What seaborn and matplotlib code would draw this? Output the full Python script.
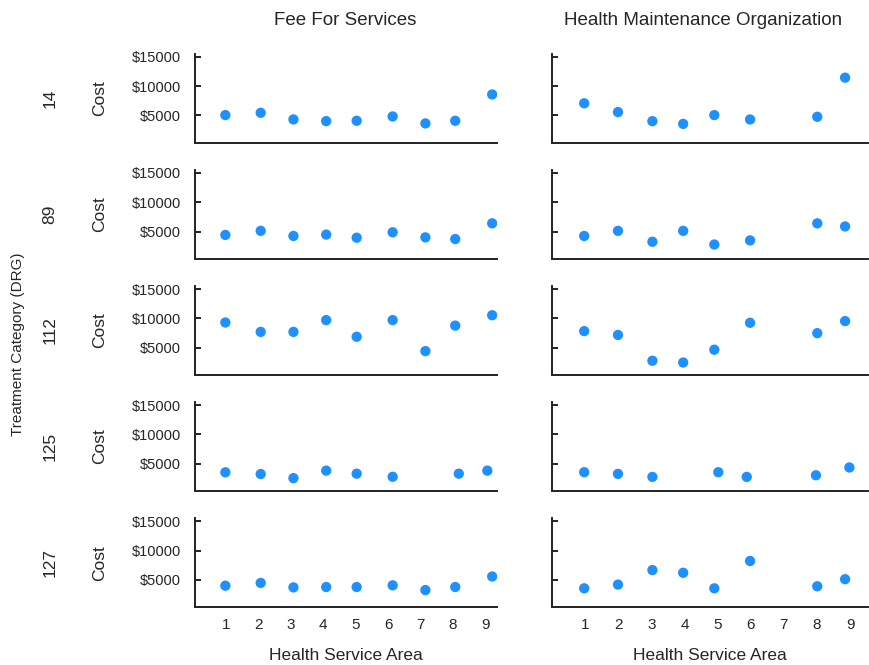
import numpy as np
import pandas as pd
import matplotlib
matplotlib.use("Agg")
import matplotlib.pyplot as plt
import seaborn as sns
from matplotlib.ticker import FuncFormatter

drg_codes = ["14", "89", "112", "125", "127"]
plans = ["Fee For Services", "Health Maintenance Organization"]
area_ticks = [1, 2, 3, 4, 5, 6, 7, 8, 9]
cost_ticks = [5000, 10000, 15000]

# horizontal positions as drawn (points sit slightly off the integer areas)
ffs_area = [0.98, 2.07, 3.08, 4.09, 5.03, 6.14, 7.15, 8.07, 9.21]
hmo_area = [0.97, 1.99, 3.03, 3.96, 4.90, 5.98, 8.01, 8.85]
ffs_area_125 = [0.98, 2.07, 3.08, 4.09, 5.03, 6.14, 8.18, 9.06]
hmo_area_125 = [0.97, 1.99, 3.03, 5.02, 5.88, 7.97, 8.98]

ffs_cost_14 = [5060, 5450, 4320, 4030, 4090, 4830, 3640, 4090, 8580]
hmo_cost_14 = [7070, 5575, 4020, 3560, 5060, 4310, 4770, 11440]
ffs_cost_89 = [4420, 5120, 4250, 4480, 3950, 4880, 4010, 3720, 6400]
hmo_cost_89 = [4250, 5120, 3260, 5120, 2790, 3490, 6400, 5870]
ffs_cost_112 = [9290, 7690, 7690, 9700, 6860, 9700, 4410, 8760, 10530]
hmo_cost_112 = [7820, 7170, 2770, 2470, 4650, 9240, 7470, 9530]
ffs_cost_125 = [3540, 3250, 2550, 3830, 3310, 2780, 3310, 3830]
hmo_cost_125 = [3560, 3275, 2760, 3560, 2760, 3040, 4370]
ffs_cost_127 = [4010, 4480, 3720, 3780, 3780, 4070, 3260, 3780, 5580]
hmo_cost_127 = [3560, 4195, 6670, 6210, 3560, 8220, 3910, 5115]

panels = [
    ("14", plans[0], ffs_area, ffs_cost_14),
    ("14", plans[1], hmo_area, hmo_cost_14),
    ("89", plans[0], ffs_area, ffs_cost_89),
    ("89", plans[1], hmo_area, hmo_cost_89),
    ("112", plans[0], ffs_area, ffs_cost_112),
    ("112", plans[1], hmo_area, hmo_cost_112),
    ("125", plans[0], ffs_area_125, ffs_cost_125),
    ("125", plans[1], hmo_area_125, hmo_cost_125),
    ("127", plans[0], ffs_area, ffs_cost_127),
    ("127", plans[1], hmo_area, hmo_cost_127),
]
records = []
for drg, plan, areas, costs in panels:
    for a, c in zip(areas, costs):
        records.append({"DRG": drg, "Plan": plan, "Area": a, "Cost": c})
df = pd.DataFrame(records)

sns.set_style("white")
plt.rcParams["font.family"] = ["Liberation Sans", "DejaVu Sans"]
plt.rcParams["font.size"] = 10.5

fig, axes = plt.subplots(
    5, 2, figsize=(8.7, 6.65), dpi=100,
    gridspec_kw=dict(width_ratios=[302, 316], left=0.224, right=0.998,
                     top=0.919, bottom=0.087, hspace=0.307, wspace=0.178),
)
xlims = [(0.04, 9.36), (0.0, 9.55)]
title_x = [0.497, 0.478]
money = FuncFormatter(lambda v, _: f"${v:.0f}")

for i, drg in enumerate(drg_codes):
    for j, plan in enumerate(plans):
        ax = axes[i, j]
        sub = df[(df["DRG"] == drg) & (df["Plan"] == plan)]
        sns.scatterplot(data=sub, x="Area", y="Cost", ax=ax, color="#1e90ff",
                        s=55, edgecolor="none", legend=False)
        ax.set_xlim(*xlims[j])
        ax.set_ylim(350, 15500)
        ax.set_xticks(area_ticks)
        ax.set_yticks(cost_ticks)
        ax.yaxis.set_major_formatter(money)
        sns.despine(ax=ax)
        for side in ["left", "bottom"]:
            ax.spines[side].set_color("#222222")
            ax.spines[side].set_linewidth(1.4)
        ax.tick_params(axis="y", left=True, direction="in", length=4, width=1.4,
                       color="#222222", pad=10, labelleft=(j == 0))
        ax.tick_params(axis="x", bottom=False, length=0, pad=8,
                       labelbottom=(i == 4), labelsize=11)
        if j == 0:
            ax.set_ylabel("Cost", fontsize=12.5)
            ax.yaxis.set_label_coords(-0.29, 0.5)
            pos = ax.get_position()
            fig.text(50 / 870, (pos.y0 + pos.y1) / 2, drg, rotation=90,
                     ha="center", va="center", fontsize=12.5)
        else:
            ax.set_ylabel("")
        if i == 4:
            ax.set_xlabel("Health Service Area", labelpad=11, fontsize=12.5)
        else:
            ax.set_xlabel("")
        if i == 0:
            ax.set_title(plan, pad=21, fontsize=13.5, x=title_x[j])

fig.text(18 / 870, 1 - 344 / 665, "Treatment Category (DRG)", rotation=90,
         ha="center", va="center", fontsize=11)

fig.savefig("out.png", dpi=100)
